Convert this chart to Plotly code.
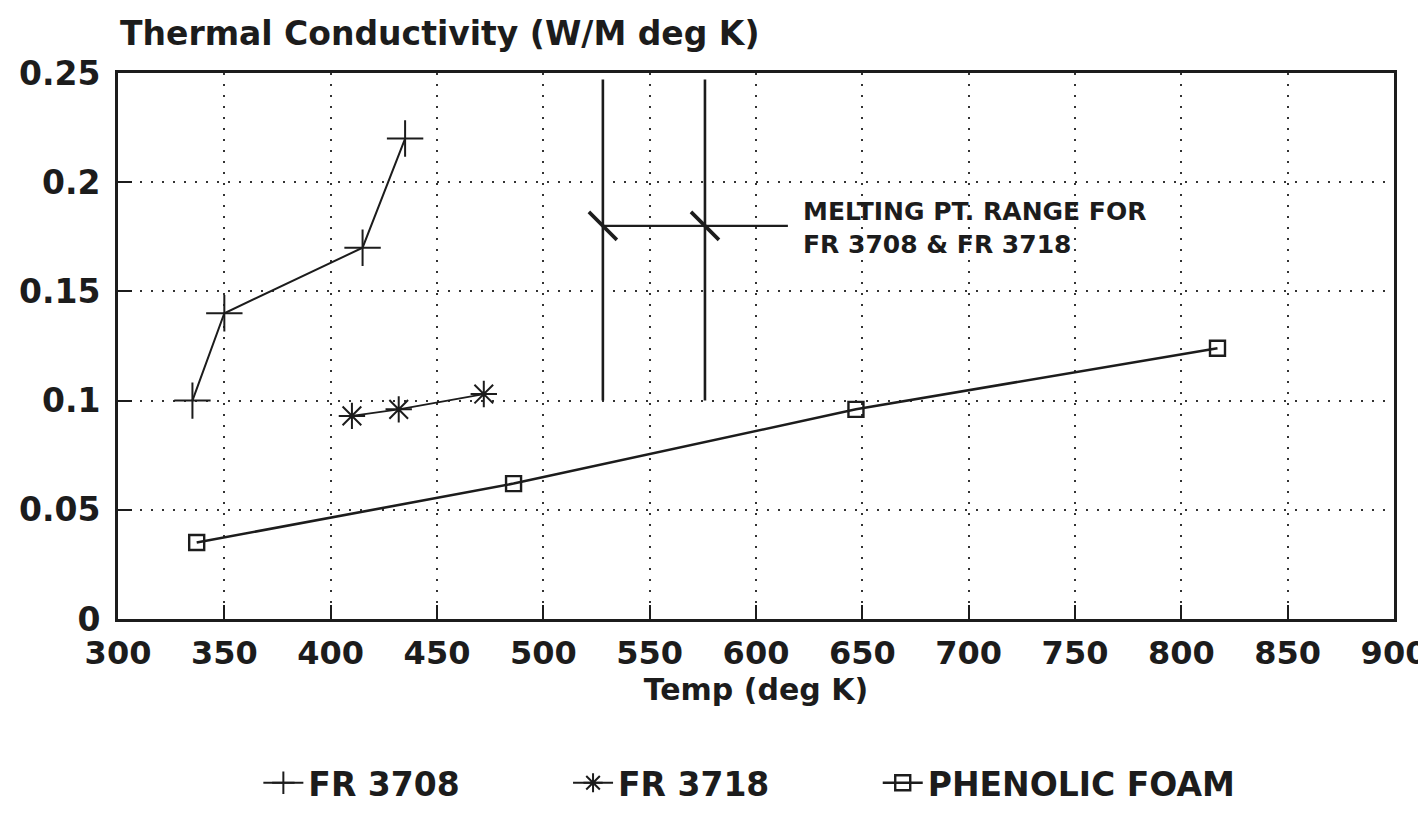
import plotly.graph_objects as go

# ---- data ----
temp_fr3708 = [335, 350, 415, 435]
k_fr3708 = [0.100, 0.140, 0.170, 0.220]

temp_fr3718 = [410, 432, 472]
k_fr3718 = [0.093, 0.096, 0.103]

temp_foam = [337, 486, 647, 817]
k_foam = [0.035, 0.062, 0.096, 0.124]

series_names = ["FR 3708", "FR 3718", "PHENOLIC FOAM"]

# melting point range marker (deg K) and its pointer
melt_range = [528, 576]
melt_k_span = [0.100, 0.247]
melt_pointer_k = 0.18
melt_pointer_end = 615

x_ticks = list(range(300, 901, 50))
y_ticks = [0, 0.05, 0.1, 0.15, 0.2, 0.25]
y_tick_labels = ["0", "0.05", "0.1", "0.15", "0.2", "0.25"]

FONT = "DejaVu Sans"
INK = "#1c1c1c"
PAD = "\u00a0" * 9  # spacing between legend entries

fig = go.Figure()

fig.add_trace(go.Scatter(
    x=temp_fr3708, y=k_fr3708, name=series_names[0] + PAD, mode="lines+markers",
    line=dict(color=INK, width=2),
    marker=dict(symbol="cross-thin", size=26, line=dict(color=INK, width=2)),
))
fig.add_trace(go.Scatter(
    x=temp_fr3718, y=k_fr3718, name=series_names[1] + PAD, mode="lines+markers",
    line=dict(color=INK, width=1.8),
    marker=dict(symbol="asterisk-open", size=22, line=dict(color=INK, width=2)),
))
fig.add_trace(go.Scatter(
    x=temp_foam, y=k_foam, name=series_names[2], mode="lines+markers",
    line=dict(color=INK, width=2.6),
    marker=dict(symbol="square-open", size=15, line=dict(color=INK, width=2.4)),
))

# melting point range: two verticals, pointer line and slash marks
vx, vy = [], []
for m in melt_range:
    vx += [m, m, None]
    vy += [melt_k_span[0], melt_k_span[1], None]
fig.add_trace(go.Scatter(x=vx, y=vy, mode="lines", showlegend=False,
                         line=dict(color=INK, width=2.6), hoverinfo="skip"))
fig.add_trace(go.Scatter(x=[melt_range[0], melt_pointer_end],
                         y=[melt_pointer_k, melt_pointer_k], mode="lines",
                         showlegend=False, line=dict(color=INK, width=2.2),
                         hoverinfo="skip"))
fig.add_trace(go.Scatter(x=melt_range, y=[melt_pointer_k] * len(melt_range),
                         mode="markers", showlegend=False, hoverinfo="skip",
                         marker=dict(symbol="line-nw", size=28,
                                     line=dict(color=INK, width=3.6))))

fig.add_annotation(
    x=melt_pointer_end + 6, y=melt_pointer_k - 0.001, xref="x", yref="y",
    text="MELTING PT. RANGE FOR<br>FR 3708 & FR 3718",
    showarrow=False, xanchor="left", yanchor="middle", align="left",
    font=dict(family=FONT, size=25, color=INK, weight="bold"),
)
fig.add_annotation(
    x=0, y=1, xref="paper", yref="paper", xanchor="left", yanchor="bottom",
    yshift=18, text="Thermal Conductivity (W/M deg K)", showarrow=False,
    font=dict(family=FONT, size=33, color=INK, weight="bold"),
)

axis_common = dict(
    showline=True, linecolor=INK, linewidth=2.8, mirror=True,
    ticks="inside", ticklen=14, tickwidth=2.4, tickcolor=INK,
    showgrid=True, gridcolor="#333333", gridwidth=2.2, griddash="2px,9px",
    zeroline=False, automargin=False,
)

fig.update_xaxes(
    range=[300, 900], tickvals=x_ticks, ticktext=[str(v) for v in x_ticks],
    ticklabelstandoff=4,
    tickfont=dict(family=FONT, size=32, color=INK, weight="bold"),
    title=dict(text="Temp (deg K)", standoff=6,
               font=dict(family=FONT, size=30, color=INK, weight="bold")),
    **axis_common,
)
fig.update_yaxes(
    range=[0, 0.25], tickvals=y_ticks, ticktext=y_tick_labels,
    ticklabelstandoff=8,
    tickfont=dict(family=FONT, size=33, color=INK, weight="bold"),
    **axis_common,
)

fig.update_layout(
    width=1426, height=815,
    margin=dict(l=110, r=40, t=65, b=198),
    paper_bgcolor="white", plot_bgcolor="white",
    showlegend=True,
    legend=dict(orientation="h", x=0.11, xanchor="left", y=-0.30,
                yanchor="middle",
                font=dict(family=FONT, size=33, color=INK, weight="bold"),
                itemwidth=40),
    font=dict(family=FONT, color=INK),
)

fig.write_html("out.html")
